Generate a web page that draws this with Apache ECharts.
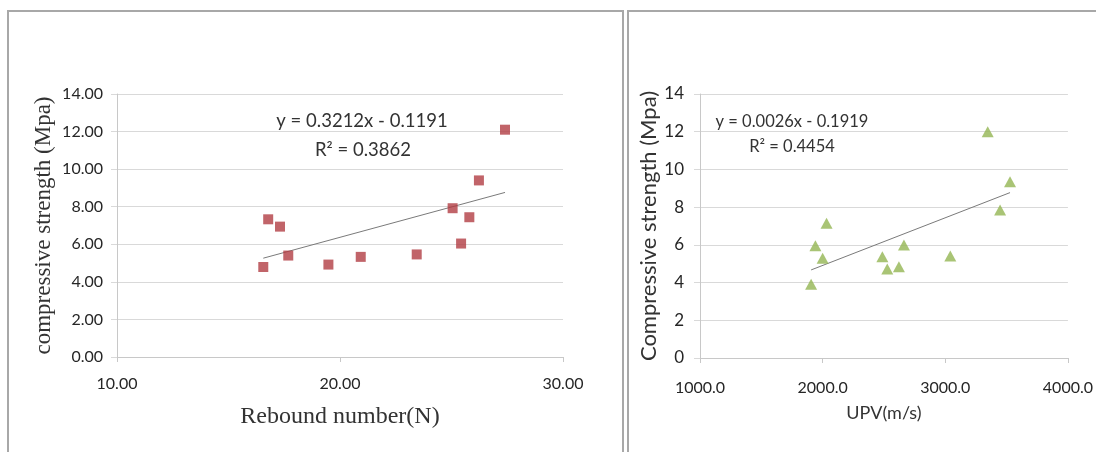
<!DOCTYPE html>
<html>
<head>
<meta charset="utf-8">
<script src="https://cdn.jsdelivr.net/npm/echarts@6/dist/echarts.min.js"></script>
<style>
html,body{margin:0;padding:0;background:#fff;}
#c{width:1096px;height:452px;}
</style>
</head>
<body>
<div id="c"></div>
<script>
// Left chart: Rebound number vs compressive strength
const reboundX = [16.56, 16.78, 17.31, 17.68, 19.48, 20.93, 23.44, 25.05, 25.43, 25.80, 26.23, 27.40];
const reboundY = [4.79, 7.33, 6.94, 5.40, 4.92, 5.33, 5.46, 7.92, 6.04, 7.44, 9.40, 12.10];
const reboundTrend = [[16.56, 5.26], [27.40, 8.76]];
const reboundEq = ['y = 0.3212x - 0.1191', 'R\u00B2 = 0.3862'];

// Right chart: UPV vs compressive strength
const upvX = [1906, 1941, 2000, 2032, 2487, 2527, 2622, 2663, 3041, 3346, 3447, 3528];
const upvY = [3.91, 5.95, 5.29, 7.14, 5.37, 4.72, 4.84, 5.99, 5.41, 12.00, 7.85, 9.35];
const upvTrend = [[1906, 4.67], [3528, 8.77]];
const upvEq = ['y = 0.0026x - 0.1919', 'R\u00B2 = 0.4454'];

const leftXTicks = [10, 20, 30];
const leftYTicks = [0, 14, 2];
const rightXTicks = [1000, 4000, 1000];
const rightYTicks = [0, 14, 2];

const sans = 'Lato, "Liberation Sans", sans-serif';
const serif = '"Liberation Serif", "DejaVu Serif", serif';
const gridColor = '#d9d9d9';
const axisColor = '#c8c8c8';
const labelColor = '#262626';

const chart = echarts.init(document.getElementById('c'), null, {renderer: 'canvas'});

function pairs(xs, ys) { return xs.map((x, i) => [x, ys[i]]); }

const option = {
  backgroundColor: '#ffffff',
  animation: false,
  grid: [
    {left: 117, top: 94, width: 446, height: 263},
    {left: 700, top: 94, width: 370, height: 264}
  ],
  xAxis: [
    {
      gridIndex: 0, type: 'value',
      min: leftXTicks[0], max: leftXTicks[2], interval: leftXTicks[1] - leftXTicks[0],
      splitLine: {show: false},
      axisLine: {show: true, lineStyle: {color: axisColor, width: 1}},
      axisTick: {show: true, length: 5, lineStyle: {color: axisColor}},
      axisLabel: {formatter: v => v.toFixed(2), margin: 19, fontFamily: sans, fontSize: 16, color: labelColor},
      name: 'Rebound number(N)', nameLocation: 'middle', nameGap: 48,
      nameTextStyle: {fontFamily: serif, fontSize: 24, color: '#333'}
    },
    {
      gridIndex: 1, type: 'value',
      min: rightXTicks[0], max: rightXTicks[1], interval: rightXTicks[2],
      splitLine: {show: false},
      axisLine: {show: true, lineStyle: {color: axisColor, width: 1}},
      axisTick: {show: true, length: 5, lineStyle: {color: axisColor}},
      axisLabel: {formatter: v => v.toFixed(1), margin: 22, fontFamily: sans, fontSize: 16, color: labelColor},
      name: 'UPV(m/s)', nameLocation: 'middle', nameGap: 46,
      nameTextStyle: {fontFamily: sans, fontSize: 18, color: '#333'}
    }
  ],
  yAxis: [
    {
      gridIndex: 0, type: 'value',
      min: leftYTicks[0], max: leftYTicks[1], interval: leftYTicks[2],
      splitLine: {show: true, lineStyle: {color: gridColor, width: 1}},
      axisLine: {show: true, lineStyle: {color: axisColor, width: 1}},
      axisTick: {show: true, length: 6, lineStyle: {color: gridColor}},
      axisLabel: {formatter: v => v.toFixed(2), margin: 14, fontFamily: sans, fontSize: 16, color: labelColor},
      name: 'compressive strength (Mpa)', nameLocation: 'middle', nameGap: 62,
      nameTextStyle: {fontFamily: serif, fontSize: 23, color: '#333'}
    },
    {
      gridIndex: 1, type: 'value',
      min: rightYTicks[0], max: rightYTicks[1], interval: rightYTicks[2],
      splitLine: {show: true, lineStyle: {color: gridColor, width: 1}},
      axisLine: {show: true, lineStyle: {color: axisColor, width: 1}},
      axisTick: {show: true, length: 6, lineStyle: {color: gridColor}},
      axisLabel: {margin: 16, fontFamily: sans, fontSize: 17, color: labelColor},
      name: 'Compressive strength (Mpa)', nameLocation: 'middle', nameGap: 37,
      nameTextStyle: {fontFamily: sans, fontSize: 22, color: '#333'}
    }
  ],
  series: [
    {
      type: 'line', xAxisIndex: 0, yAxisIndex: 0, data: reboundTrend,
      showSymbol: false, symbol: 'none', silent: true,
      lineStyle: {color: '#7a7a7a', width: 1}, z: 2
    },
    {
      type: 'scatter', xAxisIndex: 0, yAxisIndex: 0, data: pairs(reboundX, reboundY),
      symbol: 'rect', symbolSize: 10,
      itemStyle: {color: '#b23d43'}, z: 3
    },
    {
      type: 'line', xAxisIndex: 1, yAxisIndex: 1, data: upvTrend,
      showSymbol: false, symbol: 'none', silent: true,
      lineStyle: {color: '#7a7a7a', width: 1}, z: 2
    },
    {
      type: 'scatter', xAxisIndex: 1, yAxisIndex: 1, data: pairs(upvX, upvY),
      symbol: 'triangle', symbolSize: [12, 11],
      itemStyle: {color: '#94b552'}, z: 3
    }
  ],
  graphic: [
    {type: 'rect', shape: {x: 8, y: 11, width: 615, height: 480},
     style: {fill: 'none', stroke: '#a8a8a8', lineWidth: 2}, silent: true, z: 0},
    {type: 'rect', shape: {x: 628, y: 11, width: 480, height: 480},
     style: {fill: 'none', stroke: '#a8a8a8', lineWidth: 2}, silent: true, z: 0},
    {type: 'text', x: 362, y: 121,
     style: {text: reboundEq[0], font: '18.5px ' + sans, fill: '#333', align: 'center', verticalAlign: 'middle'}, z: 5},
    {type: 'text', x: 363, y: 150,
     style: {text: reboundEq[1], font: '18.5px ' + sans, fill: '#333', align: 'center', verticalAlign: 'middle'}, z: 5},
    {type: 'text', x: 792, y: 122,
     style: {text: upvEq[0], font: '16.5px ' + sans, fill: '#333', align: 'center', verticalAlign: 'middle'}, z: 5},
    {type: 'text', x: 792, y: 147,
     style: {text: upvEq[1], font: '16.5px ' + sans, fill: '#333', align: 'center', verticalAlign: 'middle'}, z: 5}
  ]
};
chart.setOption(option);
</script>
</body>
</html>
